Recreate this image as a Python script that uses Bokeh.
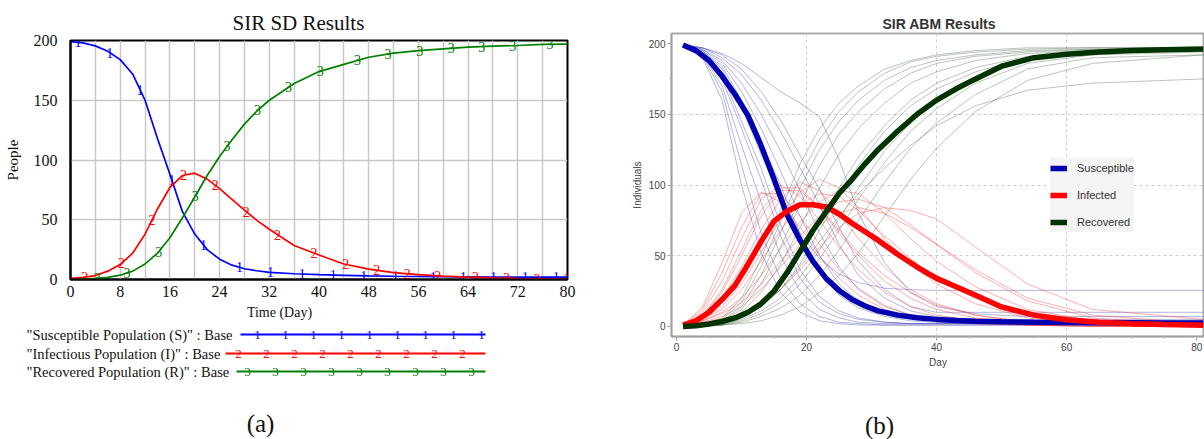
import numpy as np
from bokeh.plotting import figure
from bokeh.layouts import row, column
from bokeh.models import Range1d, SingleIntervalTicker, FixedTicker, Legend, LegendItem
from bokeh.core.properties import value
from bokeh.embed import file_html
from bokeh.resources import INLINE

SERIF = "Liberation Serif"
SANS = "Liberation Sans"

# ---------------- (a) SIR SD results (system dynamics) ----------------
sd_days = [0, 2, 4, 6, 8, 10, 12, 14, 16, 18, 20, 22, 24, 26, 28, 30, 32, 36, 40,
           44, 48, 52, 56, 60, 64, 68, 72, 76, 80]
sd_S = [199, 198, 195.5, 191, 184, 172, 150, 118, 88, 57, 38, 25, 17, 12, 9, 7.3, 6,
        4.8, 4, 3.5, 3, 2.7, 2.5, 2.3, 2.2, 2.1, 2, 2, 2]
sd_I = [1, 1.8, 3.3, 7, 12.5, 22, 38, 59, 77, 87, 89, 84, 76, 67, 58, 49.5, 42,
        28.5, 20.5, 13, 8.7, 5.8, 4, 2.8, 2, 1.3, 0.9, 0.6, 0.4]
sd_R = [0, 0.3, 0.9, 1.8, 3.6, 7, 13, 22, 35, 51.5, 69, 87, 103, 117, 130, 141, 150,
        164, 174, 180, 186, 189.5, 191.5, 193, 194.5, 195.3, 195.8, 196.8, 197]
# days at which the numbered series markers sit
sd_mark_S = [1.2, 6.3, 11.2, 16.3, 21.4, 27.2, 32.2, 37.3, 42.3, 47.2, 52.3, 58.4,
             63.2, 68.1, 73.2, 78.2]
sd_mark_I = [2.3, 8.2, 13.1, 18.2, 23.3, 28.3, 33.3, 39.2, 44.3, 49.3, 54.2, 59.1,
             65.2, 70.2, 75.1, 80.0]
sd_mark_R = [4.3, 9.1, 14.2, 20.1, 25.2, 30.1, 35.1, 40.2, 46.2, 51.1, 56.2, 61.3,
             66.2, 71.2, 77.2]
sd_labels = ['"Susceptible Population (S)" : Base',
             '"Infectious Population (I)" : Base',
             '"Recovered Population (R)" : Base']
sd_codes = ["1", "2", "3"]
sd_colors = ["#0000ff", "#ff0000", "#008000"]

# ---------------- (b) SIR ABM results (agent based) ----------------
abm_days = [1, 3, 5, 7, 9, 11, 13, 15, 17, 19, 21, 23, 25, 27, 29, 31, 34, 37, 40,
            43, 46, 50, 55, 60, 65, 70, 75, 81]
abm_S = [199, 195, 188, 177, 164, 149, 128, 104, 79, 61, 46, 34, 25.5, 19, 14.5, 11,
         8, 6.2, 5, 4.2, 3.7, 3.3, 3, 2.8, 2.7, 2.6, 2.5, 2.5]
abm_I = [1, 4, 10, 19, 29, 44, 60, 74.5, 81.5, 86, 86, 84.5, 79.5, 73, 67, 61, 51,
         42, 34, 28, 22, 13.8, 8, 4.8, 3, 2, 1.3, 0.8]
abm_R = [0, 0.5, 1.8, 3.5, 6, 10, 16, 25, 38, 53, 68, 81, 94, 104, 115, 125, 138,
         150, 160, 168, 175, 184, 190, 192.5, 194, 195, 195.6, 196.2]

# individual stochastic runs
run_days = [1, 4, 7, 10, 13, 16, 19, 22, 25, 28, 32, 36, 40, 46, 54, 64, 81]
runs_S = [
    [199, 190, 160, 100, 52, 24, 10, 4, 2, 1, 1, 1, 1, 1, 1, 1, 1],
    [199, 192, 170, 128, 88, 50, 25, 12, 6, 3, 2, 2, 2, 2, 2, 2, 2],
    [199, 194, 178, 145, 112, 72, 40, 21, 11, 6, 3, 2, 2, 2, 2, 2, 2],
    [199, 195, 184, 160, 130, 100, 65, 38, 22, 13, 7, 4, 3, 3, 3, 3, 3],
    [199, 196, 188, 172, 150, 124, 96, 66, 42, 26, 14, 8, 5, 4, 4, 4, 4],
    [199, 197, 192, 182, 166, 146, 121, 97, 70, 46, 26, 14, 10, 10, 10, 10, 10],
    [199, 197, 193, 186, 176, 166, 158, 148, 118, 80, 45, 24, 14, 9, 7, 7, 7],
    [199, 195, 182, 155, 122, 92, 66, 48, 37, 31, 27, 26, 25.5, 25.5, 25.5, 25.5, 25.5],
    [199, 191, 166, 114, 66, 34, 16, 7, 3, 2, 1, 1, 1, 1, 1, 1, 1],
    [199, 193, 175, 140, 104, 64, 34, 17, 9, 5, 3, 2, 2, 2, 2, 2, 2],
    [199, 196, 186, 166, 140, 110, 78, 50, 30, 18, 10, 6, 4, 3, 3, 3, 3],
    [199, 197, 190, 178, 160, 138, 112, 86, 58, 36, 20, 11, 7, 5, 5, 5, 5],
]
runs_I = [
    [1, 14, 45, 80, 95, 88, 70, 50, 34, 22, 12, 7, 4, 2, 1, 0, 0],
    [1, 10, 32, 62, 90, 100, 92, 75, 56, 40, 24, 14, 8, 4, 1, 0, 0],
    [1, 7, 20, 42, 68, 90, 102, 96, 80, 62, 42, 26, 16, 8, 3, 1, 0],
    [1, 5, 14, 30, 52, 76, 95, 104, 98, 84, 62, 44, 30, 16, 6, 2, 0],
    [1, 4, 10, 20, 36, 55, 74, 88, 96, 94, 80, 62, 46, 28, 12, 4, 1],
    [1, 3, 7, 14, 26, 42, 58, 72, 80, 84, 80, 70, 58, 40, 20, 8, 2],
    [1, 8, 24, 50, 78, 96, 96, 84, 68, 52, 36, 24, 15, 8, 3, 1, 0],
    [1, 3, 5, 9, 16, 26, 40, 56, 70, 80, 84, 82, 76, 56, 30, 12, 5],
    [1, 12, 38, 70, 94, 94, 78, 58, 40, 27, 15, 8, 5, 2, 1, 0, 0],
    [1, 8, 26, 54, 82, 98, 98, 84, 66, 50, 32, 20, 12, 6, 2, 1, 0],
    [1, 5, 12, 26, 46, 68, 86, 94, 92, 82, 64, 48, 34, 20, 8, 3, 1],
    [1, 4, 9, 17, 30, 46, 64, 78, 88, 90, 84, 72, 58, 38, 18, 6, 1],
]
runs_R = [
    [0, 1, 6, 20, 48, 82, 115, 140, 158, 170, 182, 188, 192, 195, 197, 197, 197],
    [0, 1, 4, 14, 36, 66, 98, 125, 145, 160, 174, 183, 188, 192, 195, 196, 196],
    [0, 0, 3, 10, 24, 44, 70, 98, 122, 140, 158, 172, 180, 188, 193, 195, 196],
    [0, 0, 2, 7, 16, 30, 50, 74, 98, 120, 142, 160, 172, 183, 191, 195, 196],
    [0, 0, 1, 5, 11, 20, 35, 54, 76, 98, 124, 144, 160, 176, 188, 194, 195],
    [0, 0, 1, 3, 7, 13, 22, 36, 54, 75, 102, 126, 144, 164, 182, 190, 192],
    [0, 0, 2, 6, 14, 26, 42, 60, 78, 94, 112, 128, 142, 156, 167, 172, 175],
    [0, 0, 1, 2, 4, 8, 14, 24, 36, 52, 78, 104, 126, 152, 174, 186, 192],
    [0, 1, 5, 17, 42, 74, 106, 132, 152, 166, 179, 187, 191, 194, 196, 197, 197],
    [0, 1, 4, 12, 30, 56, 86, 114, 136, 152, 168, 179, 186, 191, 194, 196, 196],
    [0, 0, 2, 6, 14, 26, 44, 68, 92, 114, 138, 156, 168, 180, 190, 194, 196],
    [0, 0, 1, 4, 9, 17, 30, 48, 68, 90, 116, 138, 154, 172, 186, 192, 194],
]
abm_labels = ["Susceptible", "Infected", "Recovered"]
abm_colors = ["#0000b0", "#ff0000", "#003300"]
abm_thin_colors = ["#3a3ab0", "#ff2a2a", "#4d654d"]

# =============== panel (a) ===============
p1 = figure(width=602, height=304, x_range=Range1d(0, 80), y_range=Range1d(0, 200),
            output_backend="svg", toolbar_location=None,
            min_border_left=70, min_border_right=35, min_border_top=40, min_border_bottom=25)
p1.title.text = "SIR SD Results"
p1.title.text_font = SERIF
p1.title.text_font_size = "21px"
p1.title.text_font_style = "normal"
p1.title.text_color = "#111111"
p1.title.align = "left"
p1.title.offset = 162
p1.title.standoff = 12

p1.xaxis.ticker = SingleIntervalTicker(interval=8)
p1.yaxis.ticker = SingleIntervalTicker(interval=50)
p1.xgrid.ticker = SingleIntervalTicker(interval=4)
p1.ygrid.ticker = SingleIntervalTicker(interval=50)
p1.grid.grid_line_color = "#c8c8c8"
p1.grid.grid_line_width = 1.5
for ax in (p1.xaxis[0], p1.yaxis[0]):
    ax.axis_line_color = "black"
    ax.axis_line_width = 2
    ax.major_tick_line_color = None
    ax.minor_tick_line_color = None
    ax.major_tick_out = 0
    ax.major_tick_in = 0
    ax.minor_tick_out = 0
    ax.minor_tick_in = 0
    ax.major_label_text_font = SERIF
    ax.major_label_text_font_size = "16px"
    ax.major_label_text_color = "#111111"
p1.xaxis.major_label_standoff = 6
p1.yaxis.major_label_standoff = 13
p1.yaxis.axis_label = "People"
p1.yaxis.axis_label_text_font = SERIF
p1.yaxis.axis_label_text_font_size = "15px"
p1.yaxis.axis_label_text_font_style = "normal"
p1.yaxis.axis_label_text_color = "#111111"
p1.yaxis.axis_label_standoff = 10
p1.outline_line_color = "black"
p1.outline_line_width = 2

for ys, marks, code, col in zip([sd_S, sd_I, sd_R], [sd_mark_S, sd_mark_I, sd_mark_R],
                                sd_codes, sd_colors):
    p1.line(sd_days, ys, line_color=col, line_width=1.7)
    my = np.interp(marks, sd_days, ys)
    p1.text(x=marks, y=my, text=[code] * len(marks), text_color=col,
            text_font=value(SERIF), text_font_size="14px",
            text_align="center", text_baseline="middle")

# legend / caption area below panel (a): coordinates are page pixels
p1b = figure(width=602, height=135, x_range=Range1d(0, 602), y_range=Range1d(439, 304),
             output_backend="svg", toolbar_location=None, x_axis_type=None, y_axis_type=None,
             min_border_left=0, min_border_right=0, min_border_top=0, min_border_bottom=0)
p1b.outline_line_color = None
p1b.grid.visible = False
p1b.text(x=[279], y=[312], text=["Time (Day)"], text_font=value(SERIF), text_font_size="14px",
         text_color="#111111", text_align="center", text_baseline="middle")
row_y = [334, 353, 371]
line_start = [240, 225, 236]
first_mark = [257, 238, 247]
p1b.text(x=[26] * 3, y=row_y, text=sd_labels, text_font=value(SERIF), text_font_size="14.5px",
         text_color="#111111", text_align="left", text_baseline="middle")
p1b.segment(x0=line_start, y0=row_y, x1=[485] * 3, y1=row_y, line_color=sd_colors, line_width=2)
for yy, fm, code, col in zip(row_y, first_mark, sd_codes, sd_colors):
    xs = [fm + 28 * k for k in range(9)]
    p1b.text(x=xs, y=[yy] * 9, text=[code] * 9, text_color=col, text_font=value(SERIF),
             text_font_size="13px", text_align="center", text_baseline="middle")
p1b.text(x=[260], y=[423], text=["(a)"], text_font=value(SERIF), text_font_size="25px",
         text_color="#111111", text_align="center", text_baseline="middle")

# =============== panel (b) ===============
p2 = figure(width=602, height=370, x_range=Range1d(-0.77, 81.2), y_range=Range1d(-7.1, 207.1),
            output_backend="svg", toolbar_location=None,
            min_border_left=69, min_border_right=0, min_border_top=33, min_border_bottom=34)
p2.title.text = "SIR ABM Results"
p2.title.text_font = SANS
p2.title.text_font_size = "14px"
p2.title.text_font_style = "bold"
p2.title.text_color = "#333333"
p2.title.align = "left"
p2.title.offset = 211
p2.title.standoff = 3
p2.outline_line_color = "#aaaaaa"
p2.outline_line_width = 2

p2.xaxis.ticker = SingleIntervalTicker(interval=20, num_minor_ticks=4)
p2.yaxis.ticker = SingleIntervalTicker(interval=50, num_minor_ticks=2)
p2.xgrid.ticker = FixedTicker(ticks=[20, 40, 60])
p2.ygrid.ticker = FixedTicker(ticks=[50, 100, 150])
p2.grid.grid_line_color = "#cccccc"
p2.grid.grid_line_dash = "3 3"
p2.grid.grid_line_width = 1
for ax in (p2.xaxis[0], p2.yaxis[0]):
    ax.axis_line_color = "#a0a0a0"
    ax.axis_line_width = 1.5
    ax.major_tick_line_color = "#a0a0a0"
    ax.major_tick_out = 4
    ax.major_tick_in = 0
    ax.minor_tick_line_color = "#b0b0b0"
    ax.minor_tick_out = 2
    ax.minor_tick_in = 0
    ax.major_label_text_font = SANS
    ax.major_label_text_font_size = "10px"
    ax.major_label_text_color = "#444444"
    ax.major_label_standoff = 2
    ax.axis_label_text_font = SANS
    ax.axis_label_text_font_size = "10px"
    ax.axis_label_text_font_style = "normal"
    ax.axis_label_text_color = "#444444"
    ax.axis_label_standoff = 3
p2.xaxis.axis_label = "Day"
p2.yaxis.axis_label = "Individuals"

for runs, col in zip([runs_S, runs_I, runs_R], abm_thin_colors):
    p2.multi_line(xs=[run_days] * len(runs), ys=runs, line_color=col, line_alpha=0.38,
                  line_width=1)
thick = []
for ys, col in zip([abm_S, abm_I, abm_R], abm_colors):
    thick.append(p2.line(abm_days, ys, line_color=col, line_width=5.5))

legend = Legend(items=[LegendItem(label=lab, renderers=[r]) for lab, r in zip(abm_labels, thick)],
                location=(379, 104), margin=0, padding=5, spacing=7,
                glyph_width=17, glyph_height=20, label_height=20, label_standoff=10,
                label_text_font=SANS, label_text_font_size="11px", label_text_color="#333333",
                background_fill_color="#f4f4f4", background_fill_alpha=1.0,
                border_line_color=None)
p2.add_layout(legend)

p2b = figure(width=602, height=69, x_range=Range1d(602, 1204), y_range=Range1d(439, 370),
             output_backend="svg", toolbar_location=None, x_axis_type=None, y_axis_type=None,
             min_border_left=0, min_border_right=0, min_border_top=0, min_border_bottom=0)
p2b.outline_line_color = None
p2b.grid.visible = False
p2b.text(x=[879], y=[425], text=["(b)"], text_font=value(SERIF), text_font_size="25px",
         text_color="#111111", text_align="center", text_baseline="middle")

left = column(p1, row(p1b, spacing=0), spacing=0)
right = column(p2, row(p2b, spacing=0), spacing=0)
layout = row(left, right, spacing=0)

with open("out.html", "w") as f:
    f.write(file_html(layout, INLINE))
